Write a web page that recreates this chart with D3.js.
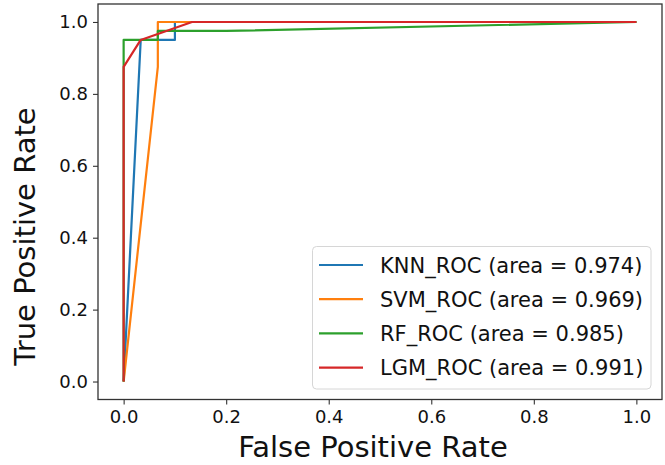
<!DOCTYPE html>
<html>
<head>
<meta charset="utf-8">
<script src="https://cdn.jsdelivr.net/npm/d3@7"></script>
<style>
  body { margin: 0; background: #fff; }
  svg text { font-family: "DejaVu Sans", sans-serif; fill: #111; }
  .tick line { stroke: #333; }
  .domain { display: none; }
</style>
</head>
<body>
<div id="chart"></div>
<script>
// --> DATA

// series names, their AUC and the ROC points
var seriesNames = ["KNN_ROC", "SVM_ROC", "RF_ROC", "LGM_ROC"];
var seriesAuc = [0.974, 0.969, 0.985, 0.991];
var seriesColors = ["#1f77b4", "#ff7f0e", "#2ca02c", "#d62728"];

var knnFpr = [0, 0.0333, 0.1, 0.1, 1];
var knnTpr = [0, 0.95, 0.95, 1, 1];
var svmFpr = [0, 0.0667, 0.0667, 1];
var svmTpr = [0, 0.875, 1, 1];
var rfFpr = [0, 0, 0.0667, 0.0667, 0.2, 1];
var rfTpr = [0, 0.95, 0.95, 0.975, 0.975, 1];
var lgmFpr = [0, 0, 0.0333, 0.1333, 1];
var lgmTpr = [0, 0.875, 0.95, 1, 1];

var tickValues = [0, 0.2, 0.4, 0.6, 0.8, 1.0];

var fprs = [knnFpr, svmFpr, rfFpr, lgmFpr];
var tprs = [knnTpr, svmTpr, rfTpr, lgmTpr];

// --> CREATE SVG DRAWING AREA

var margin = {top: 4, right: 3, bottom: 65.5, left: 98};
var width = 665 - margin.left - margin.right;
var height = 465 - margin.top - margin.bottom;

var svg = d3.select("#chart").append("svg")
        .attr("width", 665)
        .attr("height", 465),
    g = svg.append("g")
        .attr("transform", "translate(" + margin.left + "," + margin.top + ")");

var x = d3.scaleLinear().domain([-0.05, 1.05]).range([0, width]);
var y = d3.scaleLinear().domain([-0.05, 1.05]).range([height, 0]);

// axes
g.append("g")
    .attr("transform", "translate(0," + height + ")")
    .call(d3.axisBottom(x).tickValues(tickValues).tickFormat(d3.format(".1f"))
        .tickSize(5).tickPadding(6))
    .call(function(a) {
        a.selectAll("text").style("font-size", "18px");
        a.selectAll("line").attr("stroke-width", 1.1);
    });

g.append("g")
    .call(d3.axisLeft(y).tickValues(tickValues).tickFormat(d3.format(".1f"))
        .tickSize(5).tickPadding(5))
    .call(function(a) {
        a.selectAll("text").style("font-size", "18px");
        a.selectAll("line").attr("stroke-width", 1.1);
    });

// curves
var line = d3.line()
    .x(function(d) { return x(d[0]); })
    .y(function(d) { return y(d[1]); });

seriesNames.forEach(function(name, i) {
    var pts = fprs[i].map(function(f, j) { return [f, tprs[i][j]]; });
    g.append("path")
        .datum(pts)
        .attr("fill", "none")
        .attr("stroke", seriesColors[i])
        .attr("stroke-width", 2.2)
        .attr("stroke-linejoin", "round")
        .attr("d", line);
});

// frame
g.append("rect")
    .attr("width", width)
    .attr("height", height)
    .attr("fill", "none")
    .attr("stroke", "#333")
    .attr("stroke-width", 1.3);

// legend
var leg = g.append("g")
    .attr("transform", "translate(" + (312.5 - margin.left) + "," + (246.5 - margin.top) + ")");

leg.append("rect")
    .attr("width", 338.5)
    .attr("height", 142.5)
    .attr("rx", 4)
    .attr("fill", "#fff")
    .attr("fill-opacity", 0.8)
    .attr("stroke", "#d6d6d6")
    .attr("stroke-width", 1);

var item = leg.selectAll(".item")
    .data(seriesNames)
    .enter().append("g")
    .attr("class", "item")
    .attr("transform", function(d, i) { return "translate(0," + (18.5 + i * 34.2) + ")"; });

item.append("line")
    .attr("x1", 6.5).attr("x2", 50.5)
    .attr("stroke", function(d, i) { return seriesColors[i]; })
    .attr("stroke-width", 2.2);

item.append("text")
    .attr("x", 67.5)
    .attr("dy", "0.36em")
    .style("font-size", "21px")
    .text(function(d, i) { return d + " (area = " + seriesAuc[i].toFixed(3) + ")"; });

// axis labels
svg.append("text")
    .attr("x", 373)
    .attr("y", 456.5)
    .attr("text-anchor", "middle")
    .style("font-size", "29px")
    .text("False Positive Rate");

svg.append("text")
    .attr("transform", "translate(35,236.5) rotate(-90)")
    .attr("text-anchor", "middle")
    .style("font-size", "29px")
    .text("True Positive Rate");
</script>
</body>
</html>
